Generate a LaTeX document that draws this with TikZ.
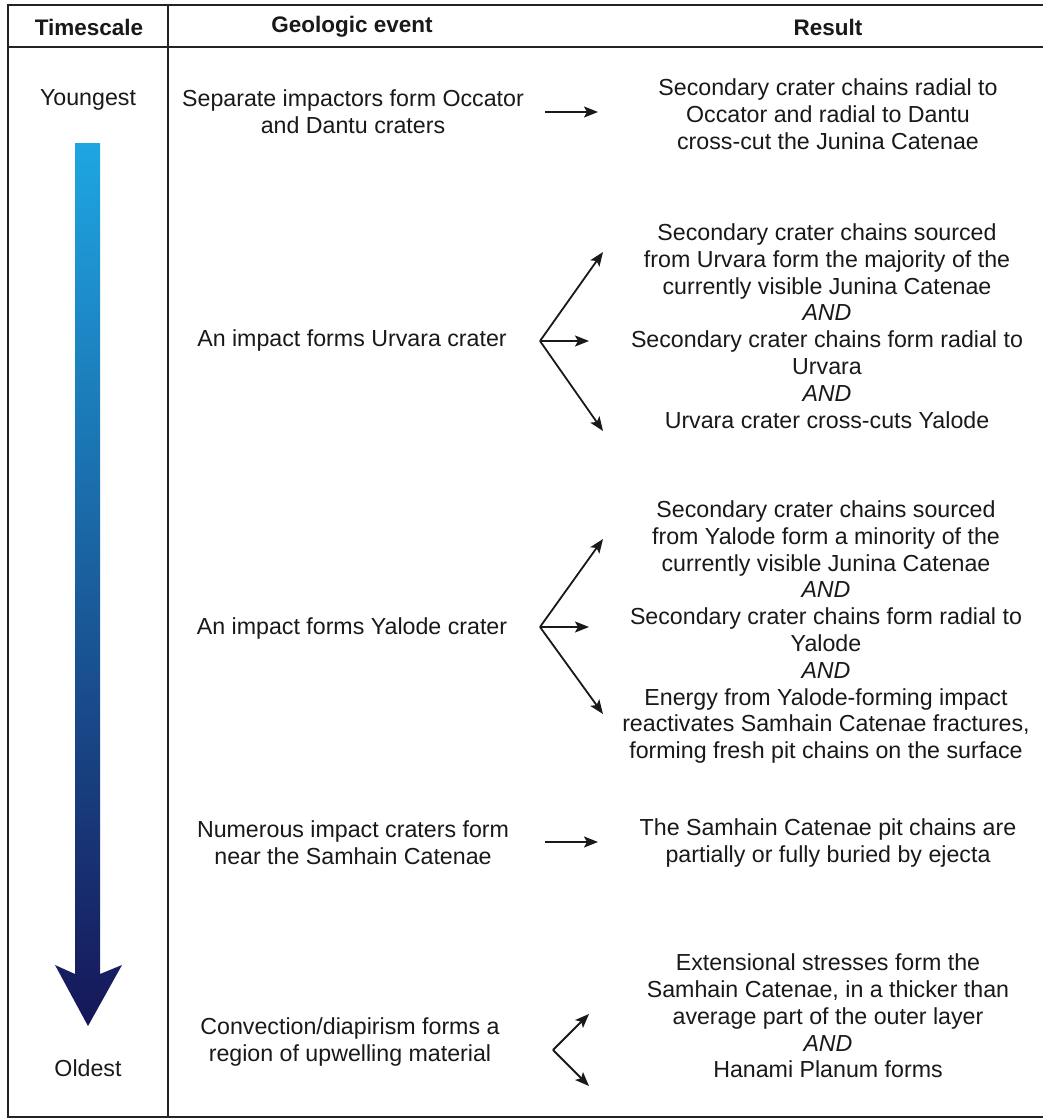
\documentclass[tikz,border=0pt]{standalone}
\usepackage{fontspec}
\setmainfont{Liberation Sans}
\usetikzlibrary{arrows.meta}
\definecolor{arTop}{RGB}{30,166,226}
\definecolor{arMid}{RGB}{27,92,182}
\definecolor{arBot}{RGB}{22,22,88}
\definecolor{lineC}{RGB}{35,35,35}
\tikzset{
  txt/.style={align=center, inner sep=0pt, text=black!90, font=\fontsize{23.2}{26.8}\selectfont},
  hdr/.style={inner sep=0pt, text=black!90, font=\fontsize{22.5}{26}\selectfont\bfseries},
  tbl/.style={draw=lineC, line width=2pt},
  conn/.style={draw=black!90, line width=1.8pt, -{Stealth[length=14pt,width=11pt,inset=3pt]}}
}
\begin{document}
\begin{tikzpicture}[x=1pt,y=-1pt]
\useasboundingbox (0,0) rectangle (1043,1120);
\fill[white] (0,0) rectangle (1043,1120);
% table lines
\draw[tbl] (1043,5) -- (8,5) -- (8,1117) -- (1043,1117);
\draw[tbl] (8,47) -- (1043,47);
\draw[tbl] (168,5) -- (168,1117);
% headers
\node[hdr] (h1) at (89,27) {Timescale};
\node[hdr] (h2) at (352,27) {Geologic event};
\node[hdr] (h3) at (828,27) {Result};
% timescale
\node[txt] (young) at (88,100) {Youngest};
\node[txt] (old) at (88,1068) {Oldest};
\shade[top color=arTop, middle color=arMid, bottom color=arBot]
  (75,143) -- (100,143) -- (100,974) -- (122,965) -- (88,1026) -- (55,965) -- (75,974) -- cycle;
% events
\node[txt] (e1) at (353,112) {Separate impactors form Occator\\and Dantu craters};
\node[txt] (e2) at (352,340) {An impact forms Urvara crater};
\node[txt] (e3) at (352,628) {An impact forms Yalode crater};
\node[txt] (e4) at (353,843) {Numerous impact craters form\\near the Samhain Catenae};
\node[txt] (e5) at (350,1042) {Convection/diapirism forms a\\region of upwelling material};
% results
\node[txt] (r1) at (828,114) {Secondary crater chains radial to\\Occator and radial to Dantu\\cross-cut the Junina Catenae};
\node[txt] (r2) at (827,326) {Secondary crater chains sourced\\from Urvara form the majority of the\\currently visible Junina Catenae\\\textit{AND}\\Secondary crater chains form radial to\\Urvara\\\textit{AND}\\Urvara crater cross-cuts Yalode};
\node[txt] (r3) at (826,632) {Secondary crater chains sourced\\from Yalode form a minority of the\\currently visible Junina Catenae\\\textit{AND}\\Secondary crater chains form radial to\\Yalode\\\textit{AND}\\Energy from Yalode-forming impact\\reactivates Samhain Catenae fractures,\\forming fresh pit chains on the surface};
\node[txt] (r4) at (828,843) {The Samhain Catenae pit chains are\\partially or fully buried by ejecta};
\node[txt] (r5) at (828,1016) {Extensional stresses form the\\Samhain Catenae, in a thicker than\\average part of the outer layer\\\textit{AND}\\Hanami Planum forms};
% connector coordinates
\coordinate (a1s) at (545,112); \coordinate (a1t) at (598,112);
\coordinate (a2o) at (540,341); \coordinate (a2u) at (603,252); \coordinate (a2m) at (589,341); \coordinate (a2d) at (603,431);
\coordinate (a3o) at (540,627); \coordinate (a3u) at (603,539); \coordinate (a3m) at (589,627); \coordinate (a3d) at (603,714);
\coordinate (a4s) at (545,842); \coordinate (a4t) at (598,842);
\coordinate (a5o) at (553,1050); \coordinate (a5u) at (589,1014); \coordinate (a5d) at (589,1086);
% connectors
\draw[conn] (a1s) -- (a1t);
\draw[conn] (a2o) -- (a2u);
\draw[conn] (a2o) -- (a2m);
\draw[conn] (a2o) -- (a2d);
\draw[conn] (a3o) -- (a3u);
\draw[conn] (a3o) -- (a3m);
\draw[conn] (a3o) -- (a3d);
\draw[conn] (a4s) -- (a4t);
\draw[conn] (a5o) -- (a5u);
\draw[conn] (a5o) -- (a5d);
\end{tikzpicture}
\end{document}
